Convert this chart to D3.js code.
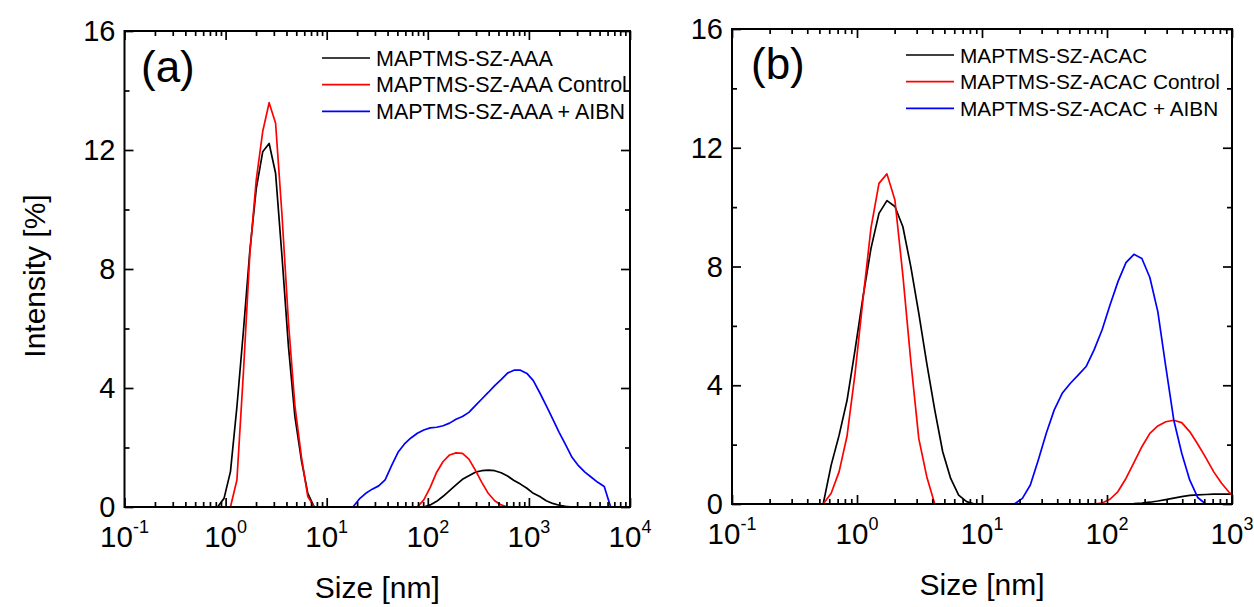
<!DOCTYPE html>
<html>
<head>
<meta charset="utf-8">
<script src="https://cdn.jsdelivr.net/npm/d3@7"></script>
<style>
  body { margin: 0; background: #fff; }
  svg text { font-family: "Liberation Sans", Arial, Helvetica, sans-serif; fill: #000; }
</style>
</head>
<body>
<div id="canvas"></div>
<script>
// DLS size bins (nm)
const sizes = [0.4, 0.4632, 0.5365, 0.6213, 0.7195, 0.8332, 0.9650, 1.117, 1.294, 1.499,
  1.736, 2.010, 2.328, 2.696, 3.122, 3.615, 4.187, 4.849, 5.615, 6.503,
  7.531, 8.721, 10.10, 11.70, 13.54, 15.69, 18.17, 21.04, 24.36, 28.21,
  32.67, 37.84, 43.82, 50.75, 58.77, 68.06, 78.82, 91.28, 105.7, 122.4,
  141.8, 164.2, 190.1, 220.2, 255.0, 295.3, 342.0, 396.1, 458.7, 531.2,
  615.1, 712.4, 825.0, 955.4, 1106, 1281, 1484, 1718, 1990, 2305,
  2669, 3091, 3580, 4145, 4801, 5560, 6439, 7456, 8635, 10000];

// panel (a) intensities [%]
const aaa = [0, 0, 0, 0, 0, 0, 0.29, 1.19, 3.37, 5.9,
  8.6, 10.7, 11.94, 12.22, 11.22, 8.41, 5.39, 3.04, 1.58, 0.46,
  0, 0, 0, 0, 0, 0, 0, 0, 0, 0,
  0, 0, 0, 0, 0, 0, 0, 0, 0.07, 0.19,
  0.36, 0.55, 0.74, 0.93, 1.05, 1.17, 1.22, 1.24, 1.22, 1.15,
  1.04, 0.89, 0.77, 0.63, 0.46, 0.35, 0.21, 0.12, 0.06, 0.02,
  0, 0, 0, 0, 0, 0, 0, 0, 0, 0];
const aaaControl = [0, 0, 0, 0, 0, 0, 0, 0, 0.91, 4.5,
  8.5, 11.0, 12.62, 13.59, 12.9, 9.8, 6.2, 3.4, 1.7, 0.35,
  0, 0, 0, 0, 0, 0, 0, 0, 0, 0,
  0, 0, 0, 0, 0, 0, 0, 0.24, 0.66, 1.17,
  1.53, 1.75, 1.82, 1.8, 1.61, 1.24, 0.83, 0.46, 0.21, 0.07,
  0, 0, 0, 0, 0, 0, 0, 0, 0, 0,
  0, 0, 0, 0, 0, 0, 0, 0, 0, 0];
const aaaAibn = [0, 0, 0, 0, 0, 0, 0, 0, 0, 0,
  0, 0, 0, 0, 0, 0, 0, 0, 0, 0,
  0, 0, 0, 0, 0, 0, 0, 0.27, 0.46, 0.6,
  0.71, 0.91, 1.39, 1.84, 2.12, 2.32, 2.48, 2.59, 2.66, 2.68,
  2.73, 2.82, 2.95, 3.04, 3.18, 3.41, 3.63, 3.85, 4.08, 4.28,
  4.5, 4.6, 4.6, 4.49, 4.25, 3.84, 3.41, 2.96, 2.51, 2.1,
  1.67, 1.39, 1.17, 1.0, 0.83, 0.69, 0, 0, 0, 0];

// panel (b) intensities [%] (first 56 bins, the axis stops at 10^3)
const acac = [0, 0, 0, 1.31, 2.32, 3.5, 5.19, 6.98, 8.61, 9.79,
  10.22, 10.02, 9.34, 7.99, 6.42, 4.74, 3.17, 1.76, 0.86, 0.3,
  0.08, 0, 0, 0, 0, 0, 0, 0, 0, 0,
  0, 0, 0, 0, 0, 0, 0, 0, 0, 0,
  0, 0.01, 0.03, 0.06, 0.1, 0.15, 0.2, 0.25, 0.29, 0.31,
  0.32, 0.33, 0.33, 0.33, 0.33, 0.32];
const acacControl = [0, 0, 0, 0.36, 1.09, 2.3, 4.4, 6.9, 9.3, 10.8,
  11.12, 10.24, 7.7, 4.8, 2.2, 0.92, 0, 0, 0, 0,
  0, 0, 0, 0, 0, 0, 0, 0, 0, 0,
  0, 0, 0, 0, 0, 0, 0, 0.03, 0.16, 0.42,
  0.86, 1.39, 1.93, 2.38, 2.63, 2.77, 2.82, 2.74, 2.44, 2.02,
  1.57, 1.09, 0.7, 0.38, 0.13, 0.03];
const acacAibn = [0, 0, 0, 0, 0, 0, 0, 0, 0, 0,
  0, 0, 0, 0, 0, 0, 0, 0, 0, 0,
  0, 0, 0, 0, 0, 0, 0, 0.19, 0.64, 1.48,
  2.38, 3.17, 3.73, 4.06, 4.34, 4.63, 5.19, 5.86, 6.7, 7.49,
  8.13, 8.41, 8.27, 7.63, 6.48, 4.63, 2.83, 1.71, 0.81, 0.22,
  0, 0, 0, 0, 0, 0];

const legendA = ["MAPTMS-SZ-AAA", "MAPTMS-SZ-AAA Control", "MAPTMS-SZ-AAA + AIBN"];
const legendB = ["MAPTMS-SZ-ACAC", "MAPTMS-SZ-ACAC Control", "MAPTMS-SZ-ACAC + AIBN"];
const xTicksA = [0.1, 1, 10, 100, 1000, 10000];
const xExpA = ["-1", "0", "1", "2", "3", "4"];
const xTicksB = [0.1, 1, 10, 100, 1000];
const xExpB = ["-1", "0", "1", "2", "3"];
const yTicks = [0, 4, 8, 12, 16];
const yMinor = [2, 6, 10, 14];
const colors = ["#000000", "#ff0000", "#0000ff"];

const w = 1254;
const h = 607;

const svg = d3.select("#canvas")
  .append("svg")
  .attr("width", w)
  .attr("height", h);

// 2..9 ticks inside every decade of the range
function minorTicks(majors){
  const out = [];
  for (let i = 0; i < majors.length - 1; i++) {
    for (let k = 2; k < 10; k++) out.push(majors[i] * k);
  }
  return out;
}

function panel(p){
  const g = svg.append("g");
  const x = d3.scaleLog().domain([0.1, p.xmax]).range([p.left, p.right]);
  const y = d3.scaleLinear().domain([0, 16]).range([p.bottom, p.top]);

  svg.append("clipPath").attr("id", "clip-" + p.name)
    .append("rect")
    .attr("x", p.left).attr("y", p.top)
    .attr("width", p.right - p.left).attr("height", p.bottom - p.top);

  const line = d3.line()
    .x(d => x(d[0]))
    .y(d => y(d[1]));

  p.series.forEach(function(s, i){
    g.append("path")
      .datum(s.map((v, k) => [sizes[k], v]))
      .attr("d", line)
      .attr("fill", "none")
      .attr("stroke", colors[i])
      .attr("stroke-width", 1.7)
      .attr("stroke-linejoin", "round")
      .attr("clip-path", "url(#clip-" + p.name + ")");
  });

  const minors = minorTicks(p.majors);
  const axes = [
    [d3.axisBottom(x).tickValues(p.majors).tickSize(-9), "translate(0," + p.bottom + ")"],
    [d3.axisBottom(x).tickValues(minors).tickSize(-5), "translate(0," + p.bottom + ")"],
    [d3.axisTop(x).tickValues(p.majors).tickSize(-9), "translate(0," + p.top + ")"],
    [d3.axisTop(x).tickValues(minors).tickSize(-5), "translate(0," + p.top + ")"],
    [d3.axisLeft(y).tickValues(yTicks).tickSize(-9), "translate(" + p.left + ",0)"],
    [d3.axisLeft(y).tickValues(yMinor).tickSize(-5), "translate(" + p.left + ",0)"],
    [d3.axisRight(y).tickValues(yTicks).tickSize(-9), "translate(" + p.right + ",0)"],
    [d3.axisRight(y).tickValues(yMinor).tickSize(-5), "translate(" + p.right + ",0)"]
  ];
  axes.forEach(function(a){
    g.append("g")
      .attr("transform", a[1])
      .call(a[0].tickSizeOuter(0).tickFormat(""))
      .call(s => s.select(".domain").remove())
      .selectAll("line")
      .attr("stroke", "#000")
      .attr("stroke-width", 1.7);
  });

  // frame
  g.append("rect")
    .attr("x", p.left).attr("y", p.top)
    .attr("width", p.right - p.left).attr("height", p.bottom - p.top)
    .attr("fill", "none")
    .attr("stroke", "#000")
    .attr("stroke-width", 2);

  // y tick labels
  yTicks.forEach(function(v){
    g.append("text")
      .attr("x", p.left - 9)
      .attr("y", y(v))
      .attr("dy", "0.35em")
      .attr("text-anchor", "end")
      .style("font-size", "29px")
      .text(v);
  });

  // x tick labels 10^n
  p.majors.forEach(function(v, i){
    const t = g.append("text")
      .attr("x", x(v))
      .attr("y", p.bottom + 40)
      .attr("text-anchor", "middle")
      .style("font-size", p.tickFont + "px");
    t.append("tspan").text("10");
    t.append("tspan")
      .attr("dy", -14)
      .style("font-size", "18px")
      .text(p.exps[i]);
  });

  g.append("text")
    .attr("x", (p.left + p.right) / 2)
    .attr("y", p.bottom + 91)
    .attr("text-anchor", "middle")
    .style("font-size", "30px")
    .text("Size [nm]");

  g.append("text")
    .attr("x", p.tagX)
    .attr("y", p.tagY)
    .style("font-size", "44px")
    .text(p.tag);

  // legend
  p.legend.forEach(function(name, i){
    const ly = p.legY + i * 26.7;
    g.append("line")
      .attr("x1", p.legX).attr("x2", p.legX + 48)
      .attr("y1", ly).attr("y2", ly)
      .attr("stroke", colors[i])
      .attr("stroke-width", 1.7);
    g.append("text")
      .attr("x", p.legX + 54)
      .attr("y", ly + 7.5)
      .style("font-size", p.legFont + "px")
      .text(name);
  });
}

panel({
  name: "a", left: 124.5, right: 630, top: 31, bottom: 507, xmax: 10000,
  majors: xTicksA, exps: xExpA, series: [aaa, aaaControl, aaaAibn],
  legend: legendA, legX: 322, legY: 58, legFont: 21.5, tickFont: 29.5,
  tag: "(a)", tagX: 141, tagY: 82
});

panel({
  name: "b", left: 732, right: 1232, top: 29, bottom: 504, xmax: 1000,
  majors: xTicksB, exps: xExpB, series: [acac, acacControl, acacAibn],
  legend: legendB, legX: 906, legY: 55, legFont: 20.8, tickFont: 29.5,
  tag: "(b)", tagX: 751, tagY: 79
});

svg.append("text")
  .attr("transform", "translate(45," + 276 + ") rotate(-90)")
  .attr("text-anchor", "middle")
  .style("font-size", "30px")
  .text("Intensity [%]");
</script>
</body>
</html>
